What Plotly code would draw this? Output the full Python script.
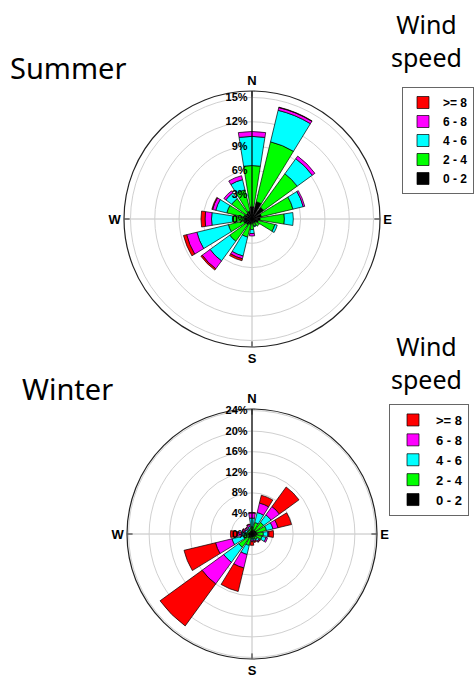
import plotly.graph_objects as go

# ---------------- data ----------------
directions = ["N", "NNE", "NE", "ENE", "E", "ESE", "SE", "SSE",
              "S", "SSW", "SW", "WSW", "W", "WNW", "NW", "NNW"]
direction_deg = [0, 22.5, 45, 67.5, 90, 112.5, 135, 157.5,
                 180, 202.5, 225, 247.5, 270, 292.5, 315, 337.5]
speed_bins = ["0 - 2", "2 - 4", "4 - 6", "6 - 8", ">= 8"]
bin_colors = ["#000000", "#00ff00", "#00ffff", "#ff00ff", "#ff0000"]

# Summer frequencies (%) per speed bin (stacked)
summer_0_2 = [1.5, 2.2, 1.8, 1.2, 1.0, 0.8, 0.6, 0.5, 0.6, 0.7, 0.9, 0.9, 0.9, 0.9, 0.9, 1.0]
summer_2_4 = [5.1, 7.6, 5.1, 4.0, 3.0, 2.1, 0.5, 0.4, 0.7, 1.6, 2.5, 2.1, 1.45, 2.3, 2.2, 2.7]
summer_4_6 = [3.6, 4.0, 2.3, 1.3, 1.1, 0.3, 0.0, 0.1, 0.5, 2.4, 3.0, 4.0, 2.65, 1.4, 0.9, 1.3]
summer_6_8 = [0.6, 0.35, 0.4, 0.2, 0.0, 0.0, 0.0, 0.0, 0.3, 0.35, 1.2, 1.3, 0.8, 0.4, 0.3, 0.5]
summer_8p = [0.0, 0.05, 0.0, 0.0, 0.0, 0.0, 0.0, 0.0, 0.0, 0.25, 0.2, 0.4, 0.5, 0.1, 0.0, 0.0]

# Winter frequencies (%) per speed bin (stacked)
winter_0_2 = [0.6, 0.8, 0.9, 0.9, 1.0, 0.8, 0.7, 0.6, 0.6, 0.8, 1.0, 0.7, 0.8, 0.6, 0.6, 0.6]
winter_2_4 = [0.8, 1.5, 1.9, 2.0, 1.2, 1.2, 0.6, 0.4, 0.3, 1.5, 2.2, 1.0, 0.6, 0.4, 0.4, 0.5]
winter_4_6 = [1.7, 2.0, 1.8, 1.3, 0.9, 0.8, 0.4, 0.3, 0.3, 1.8, 3.6, 2.3, 0.6, 0.4, 0.3, 0.4]
winter_6_8 = [1.0, 1.9, 2.0, 1.0, 0.2, 0.3, 0.2, 0.2, 0.3, 2.7, 5.2, 3.3, 0.8, 0.5, 0.3, 0.4]
winter_8p = [0.1, 1.55, 4.7, 2.7, 0.9, 0.0, 0.1, 0.2, 0.7, 4.7, 10.1, 6.3, 1.4, 0.1, 0.1, 0.1]

summer_ticks = [0, 3, 6, 9, 12, 15]
winter_ticks = [0, 4, 8, 12, 16, 20, 24]

summer_series = [summer_0_2, summer_2_4, summer_4_6, summer_6_8, summer_8p]
winter_series = [winter_0_2, winter_2_4, winter_4_6, winter_6_8, winter_8p]

# ---------------- figure ----------------
W, H = 474, 687
fig = go.Figure()

for vals, name, col in zip(summer_series, speed_bins, bin_colors):
    fig.add_trace(go.Barpolar(
        r=vals, theta=direction_deg, width=18, name=name,
        marker=dict(color=col, line=dict(color="#000000", width=0.7)),
        subplot="polar", legend="legend", hoverinfo="skip"))

for vals, name, col in zip(winter_series, speed_bins, bin_colors):
    fig.add_trace(go.Barpolar(
        r=vals, theta=direction_deg, width=18, name=name,
        marker=dict(color=col, line=dict(color="#000000", width=0.7)),
        subplot="polar2", legend="legend2", hoverinfo="skip"))


def polar_layout(cx, cy, rad, rmax, ticks):
    return dict(
        domain=dict(x=[(cx - rad) / W, (cx + rad) / W],
                    y=[1 - (cy + rad) / H, 1 - (cy - rad) / H]),
        bgcolor="white",
        barmode="stack",
        radialaxis=dict(range=[0, rmax], tickvals=ticks,
                        ticktext=[f"{t}%" for t in ticks],
                        angle=90, side="counterclockwise", tickangle=90,
                        showline=True, linecolor="#000000", linewidth=1.2,
                        gridcolor="#d0d0d0", gridwidth=1, ticks="",
                        tickfont=dict(family="Arial", size=11, color="#000", weight="bold"),
                        layer="above traces"),
        angularaxis=dict(direction="clockwise", rotation=90,
                         tickvals=[0, 90, 180, 270], ticktext=["N", "E", "S", "W"],
                         showline=True, linecolor="#222222", linewidth=1.2,
                         gridcolor="#c0c0c0", gridwidth=1,
                         ticks="inside", ticklen=5, tickcolor="#222",
                         tickfont=dict(family="Arial", size=13, color="#000", weight="bold"),
                         layer="above traces"),
    )


fig.update_layout(
    width=W, height=H,
    margin=dict(l=0, r=0, t=0, b=0),
    paper_bgcolor="white", plot_bgcolor="white",
    polar=polar_layout(252, 219, 128, 15.8, summer_ticks),
    polar2=polar_layout(252, 534, 125, 24.3, winter_ticks),
    legend=dict(x=402 / W, y=1 - 87 / H, xanchor="left", yanchor="top",
                traceorder="reversed", bgcolor="white",
                bordercolor="#666666", borderwidth=1,
                font=dict(family="Arial", size=12, color="#000", weight="bold"),
                itemwidth=30, tracegroupgap=0),
    legend2=dict(x=389 / W, y=1 - 404 / H, xanchor="left", yanchor="top",
                 traceorder="reversed", bgcolor="white",
                 bordercolor="#666666", borderwidth=1,
                 font=dict(family="Arial", size=13, color="#000", weight="bold"),
                 itemwidth=36, tracegroupgap=0),
    annotations=[
        dict(text="Summer", x=68 / W, y=1 - 68 / H, xref="paper", yref="paper",
             xanchor="center", yanchor="middle", showarrow=False,
             font=dict(family="Noto Sans", size=29, color="#000")),
        dict(text="Winter", x=67 / W, y=1 - 389 / H, xref="paper", yref="paper",
             xanchor="center", yanchor="middle", showarrow=False,
             font=dict(family="Noto Sans", size=29, color="#000")),
        dict(text="Wind<br>speed", x=426 / W, y=1 - 41 / H, xref="paper", yref="paper",
             xanchor="center", yanchor="middle", showarrow=False,
             font=dict(family="Noto Sans", size=25, color="#000")),
        dict(text="Wind<br>speed", x=426 / W, y=1 - 362 / H, xref="paper", yref="paper",
             xanchor="center", yanchor="middle", showarrow=False,
             font=dict(family="Noto Sans", size=25, color="#000")),
    ],
)

fig.write_html("out.html")
